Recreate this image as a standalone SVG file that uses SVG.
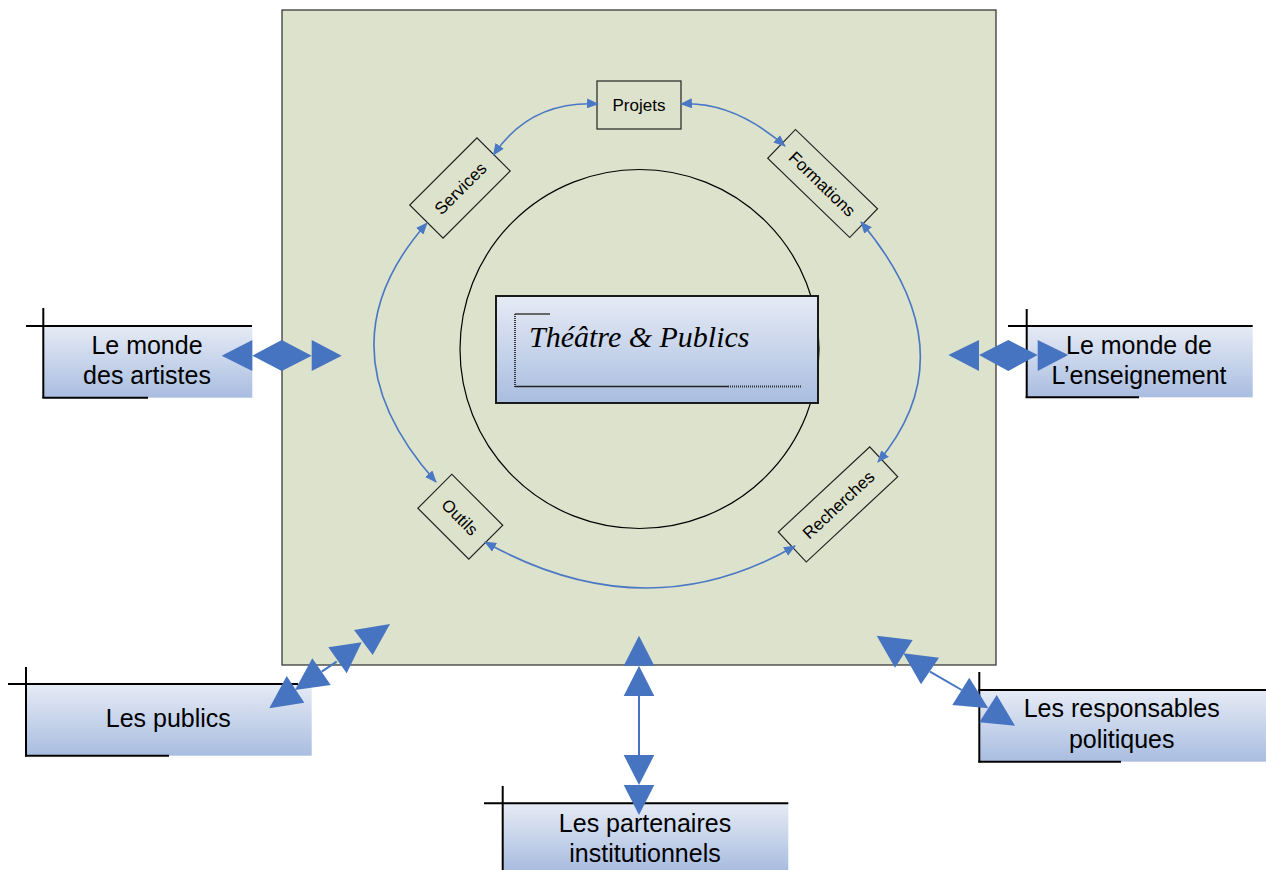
<svg xmlns="http://www.w3.org/2000/svg" width="1266" height="870" viewBox="0 0 1266 870">
<defs>
<linearGradient id="gb" x1="0" y1="0" x2="0" y2="1">
<stop offset="0" stop-color="#e6ebf5"/>
<stop offset="1" stop-color="#a9bde0"/>
</linearGradient>
<marker id="ah" viewBox="0 0 12 10" refX="11" refY="5" markerWidth="12" markerHeight="10" markerUnits="userSpaceOnUse" orient="auto-start-reverse">
<path d="M0,0 L12,5 L0,10 z" fill="#4a78c4"/>
</marker>
<style>
.lbl{font-family:"Liberation Sans",Arial,sans-serif;font-size:25px;fill:#000;text-anchor:middle}
.sm{font-family:"Liberation Sans",Arial,sans-serif;font-size:17px;fill:#000;text-anchor:middle;dominant-baseline:central}
.bx{fill:none;stroke:#222;stroke-width:1.2}
.ln{stroke:#000;stroke-width:2;fill:none}
.arc{fill:none;stroke:#4a78c4;stroke-width:1.6;marker-start:url(#ah);marker-end:url(#ah)}
.big{fill:#4674c1}
.thin{stroke:#4674c1;stroke-width:2}
</style>
</defs>
<rect width="1266" height="870" fill="#ffffff"/>

<g id="frame">
<rect x="282" y="10" width="714" height="655" fill="#dde2cc" stroke="#3a3a3a" stroke-width="1.3"/>
<circle cx="639.5" cy="349" r="179.5" fill="none" stroke="#000" stroke-width="1.2"/>
</g>

<g id="title">
<rect x="496" y="296" width="322" height="107" fill="url(#gb)" stroke="#1a1a1a" stroke-width="2"/>
<line x1="515" y1="314" x2="550" y2="314" stroke="#666" stroke-width="2"/>
<line x1="515" y1="314" x2="515" y2="387" stroke="#333" stroke-width="2" stroke-dasharray="1 1"/>
<line x1="515" y1="386.5" x2="728" y2="386.5" stroke="#222" stroke-width="1.5"/>
<line x1="728" y1="386.5" x2="801" y2="386.5" stroke="#333" stroke-width="2" stroke-dasharray="1 1"/>
<text x="529" y="347" font-family="Liberation Serif, 'Times New Roman', serif" font-style="italic" font-size="30" fill="#000">Théâtre &amp; Publics</text>
</g>

<g id="projets">
<rect class="bx" x="597" y="81" width="84" height="48"/>
<text class="sm" x="639" y="105">Projets</text>
</g>
<g id="services" transform="translate(460,188) rotate(-45)">
<rect class="bx" x="-47.5" y="-23.5" width="95" height="47"/>
<text class="sm" x="0" y="1">Services</text>
</g>
<g id="formations" transform="translate(822.6,183.5) rotate(44)">
<rect class="bx" x="-57" y="-20" width="114" height="40"/>
<text class="sm" x="0" y="1">Formations</text>
</g>
<g id="outils" transform="translate(460.3,516.7) rotate(45)">
<rect class="bx" x="-36" y="-24" width="72" height="48"/>
<text class="sm" x="0" y="1">Outils</text>
</g>
<g id="recherches" transform="translate(838,504.4) rotate(-43)">
<rect class="bx" x="-62.5" y="-20.5" width="125" height="41"/>
<text class="sm" x="0" y="1">Recherches</text>
</g>

<g id="artistes">
<rect x="43.3" y="326" width="209" height="71.7" fill="url(#gb)"/>
<line class="ln" x1="26" y1="326" x2="252" y2="326"/>
<line class="ln" x1="43.3" y1="308" x2="43.3" y2="398"/>
<line class="ln" x1="42.3" y1="397.7" x2="148" y2="397.7"/>
<text class="lbl" x="147" y="354">Le monde</text>
<text class="lbl" x="147" y="383.5">des artistes</text>
</g>

<g id="enseignement">
<rect x="1026.7" y="326" width="226" height="71.3" fill="url(#gb)"/>
<line class="ln" x1="1008" y1="326" x2="1252.7" y2="326"/>
<line class="ln" x1="1026.7" y1="309" x2="1026.7" y2="398"/>
<line class="ln" x1="1025.7" y1="397.3" x2="1139" y2="397.3"/>
<text class="lbl" x="1139" y="353.5">Le monde de</text>
<text class="lbl" x="1139" y="383.5">L’enseignement</text>
</g>

<g id="publics">
<rect x="26" y="684" width="285.7" height="71.7" fill="url(#gb)"/>
<line class="ln" x1="8" y1="684" x2="298" y2="684"/>
<line class="ln" x1="26" y1="667" x2="26" y2="756.5"/>
<line class="ln" x1="25" y1="755.7" x2="169" y2="755.7"/>
<text class="lbl" x="168.3" y="727">Les publics</text>
</g>

<g id="partenaires">
<rect x="502.7" y="803.3" width="285.6" height="66.7" fill="url(#gb)"/>
<line class="ln" x1="484" y1="803.3" x2="788.3" y2="803.3"/>
<line class="ln" x1="502.7" y1="786" x2="502.7" y2="870"/>
<text class="lbl" x="645" y="832.3">Les partenaires</text>
<text class="lbl" x="645" y="861.7">institutionnels</text>
</g>

<g id="responsables">
<rect x="979.3" y="690" width="286.7" height="71.7" fill="url(#gb)"/>
<line class="ln" x1="978.3" y1="690" x2="1266" y2="690"/>
<line class="ln" x1="979.3" y1="672" x2="979.3" y2="762.5"/>
<line class="ln" x1="978.3" y1="761.7" x2="1121" y2="761.7"/>
<text class="lbl" x="1121.7" y="717.3">Les responsables</text>
<text class="lbl" x="1121.7" y="748.3">politiques</text>
</g>

<g id="connectors">
<path class="arc" d="M598,104 Q530,100.5 493.5,155"/>
<path class="arc" d="M681,104 Q733,101 785,146"/>
<path class="arc" d="M427,223 Q316.5,347.5 436,482"/>
<path class="arc" d="M861,222 Q970.5,352 878,462"/>
<path class="arc" d="M485,542 Q646,632 795,546"/>

<polygon class="big" points="221.7,355.7 252.3,340 252.3,371"/>
<polygon class="big" points="252.3,355.7 281.7,340 311.7,355.7 281.7,371"/>
<polygon class="big" points="311.7,340 341.7,355.7 311.7,371"/>

<polygon class="big" points="948.3,355 979,340 979,371"/>
<polygon class="big" points="979,355 1008.3,340 1037.7,355 1008.3,371"/>
<polygon class="big" points="1037.7,340 1068.3,355 1037.7,371"/>

<line class="thin" x1="639" y1="696" x2="639" y2="755"/>
<polygon class="big" points="639,635.7 654.3,665.7 623.7,665.7"/>
<polygon class="big" points="639,665.7 654.3,696 623.7,696"/>
<polygon class="big" points="623.7,755 654.3,755 639,785"/>
<polygon class="big" points="623.7,785 654.3,785 639,815"/>

<line class="thin" x1="321.7" y1="671.7" x2="336.7" y2="661.7"/>
<polygon class="big" points="269.3,708.3 286.7,676 304.3,702.7"/>
<polygon class="big" points="295,690 312.3,658.3 330.7,685"/>
<polygon class="big" points="328.3,647.3 346.7,673.3 361.7,642.3"/>
<polygon class="big" points="354,630 372.7,655 390,624"/>

<line class="thin" x1="930" y1="671.7" x2="961.7" y2="690"/>
<polygon class="big" points="876.7,635.7 912.7,640 895,667.7"/>
<polygon class="big" points="903.3,653.3 939,657.7 921,684.3"/>
<polygon class="big" points="969.3,677.7 952.3,705 988.3,708.3"/>
<polygon class="big" points="996.7,695 979.3,722.3 1015,725.7"/>
</g>
</svg>
